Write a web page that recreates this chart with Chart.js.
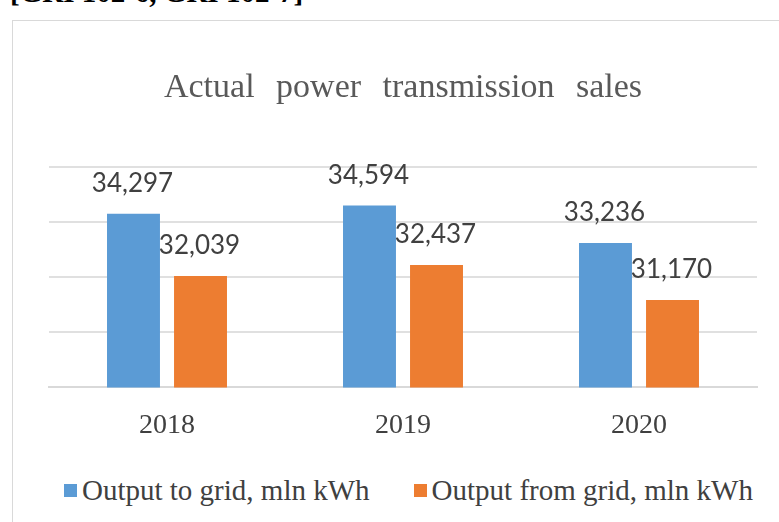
<!DOCTYPE html>
<html>
<head>
<meta charset="utf-8">
<script src="https://cdn.jsdelivr.net/npm/chart.js@4.4.0/dist/chart.umd.min.js"></script>
<style>
    html, body { margin: 0; padding: 0; background: #fff; }
    body { width: 779px; height: 522px; position: relative; overflow: hidden; }
    #gri { position: absolute; left: 10px; top: -22px; font: bold 29px/29px "Liberation Serif", serif; color: #000; white-space: nowrap; }
    #frame { position: absolute; left: 12px; top: 20px; width: 820px; height: 600px; border: 1px solid #d9d9d9; }
    #chart { position: absolute; left: 13px; top: 21px; }
    #legend { position: absolute; left: 64px; top: 474px; display: flex; align-items: center; font: 29px/32px "Liberation Serif", serif; color: #404040; white-space: nowrap; }
    #legend .item { display: flex; align-items: center; }
    #legend .item + .item { margin-left: 44px; }
    #legend .box { width: 13px; height: 13px; margin-right: 5px; }
</style>
</head>
<body>
<div id="gri">[GRI 102-6, GRI 102-7]</div>
<div id="frame"></div>
<canvas id="chart" width="766" height="442"></canvas>
<div id="legend"></div>
<script>
const categories = ['2018', '2019', '2020'];
const outputToGrid = [34297, 34594, 33236];
const outputFromGrid = [32039, 32437, 31170];
const seriesNames = ['Output to grid, mln kWh', 'Output from grid, mln kWh'];
const seriesColors = ['#5B9BD5', '#ED7D31'];
const yMin = 28000;
const yMax = 36000;
const yStep = 2000;

// value labels above each bar
const barLabels = {
    id: 'barLabels',
    afterDatasetsDraw(chart) {
        const ctx = chart.ctx;
        ctx.save();
        ctx.font = '26px Lato, "Open Sans", sans-serif';
        ctx.fillStyle = '#404040';
        ctx.textAlign = 'center';
        ctx.textBaseline = 'alphabetic';
        chart.data.datasets.forEach((ds, i) => {
            chart.getDatasetMeta(i).data.forEach((bar, j) => {
                ctx.fillText(ds.data[j].toLocaleString('en-US'), bar.x - 1, bar.y - 22);
            });
        });
        ctx.restore();
    }
};

// wider word gaps in the title, like the original
const titleSpacing = {
    id: 'titleSpacing',
    beforeDraw(chart) { chart.ctx.wordSpacing = '13px'; },
    afterDraw(chart) { chart.ctx.wordSpacing = '0px'; }
};

const chart = new Chart(document.getElementById('chart'), {
    type: 'bar',
    data: {
        labels: categories,
        datasets: [
            { label: seriesNames[0], data: outputToGrid, backgroundColor: seriesColors[0] },
            { label: seriesNames[1], data: outputFromGrid, backgroundColor: seriesColors[1] }
        ]
    },
    options: {
        responsive: false,
        animation: false,
        layout: { padding: { left: 36, right: 22, top: 0, bottom: 0 } },
        datasets: { bar: { categoryPercentage: 0.568, barPercentage: 0.79 } },
        plugins: {
            legend: { display: false },
            tooltip: { enabled: false },
            title: {
                display: true,
                text: 'Actual power transmission sales',
                color: '#595959',
                font: { family: '"Liberation Serif", serif', size: 34, weight: 'normal' },
                padding: { top: 47, bottom: 58 }
            }
        },
        scales: {
            x: {
                grid: { display: false, drawTicks: false },
                border: { display: true, color: '#d9d9d9', width: 2 },
                ticks: {
                    color: '#404040',
                    padding: 21,
                    font: { family: '"Liberation Serif", serif', size: 28 }
                }
            },
            y: {
                min: yMin,
                max: yMax,
                ticks: { display: false, stepSize: yStep },
                border: { display: false },
                grid: { color: '#e0e0e0', lineWidth: 2, drawTicks: false }
            }
        }
    },
    plugins: [barLabels, titleSpacing]
});

// legend built from the chart's own datasets
const legend = document.getElementById('legend');
chart.data.datasets.forEach(ds => {
    const item = document.createElement('div');
    item.className = 'item';
    item.innerHTML = `<span class="box" style="background:${ds.backgroundColor}"></span><span>${ds.label}</span>`;
    legend.appendChild(item);
});
</script>
</body>
</html>
